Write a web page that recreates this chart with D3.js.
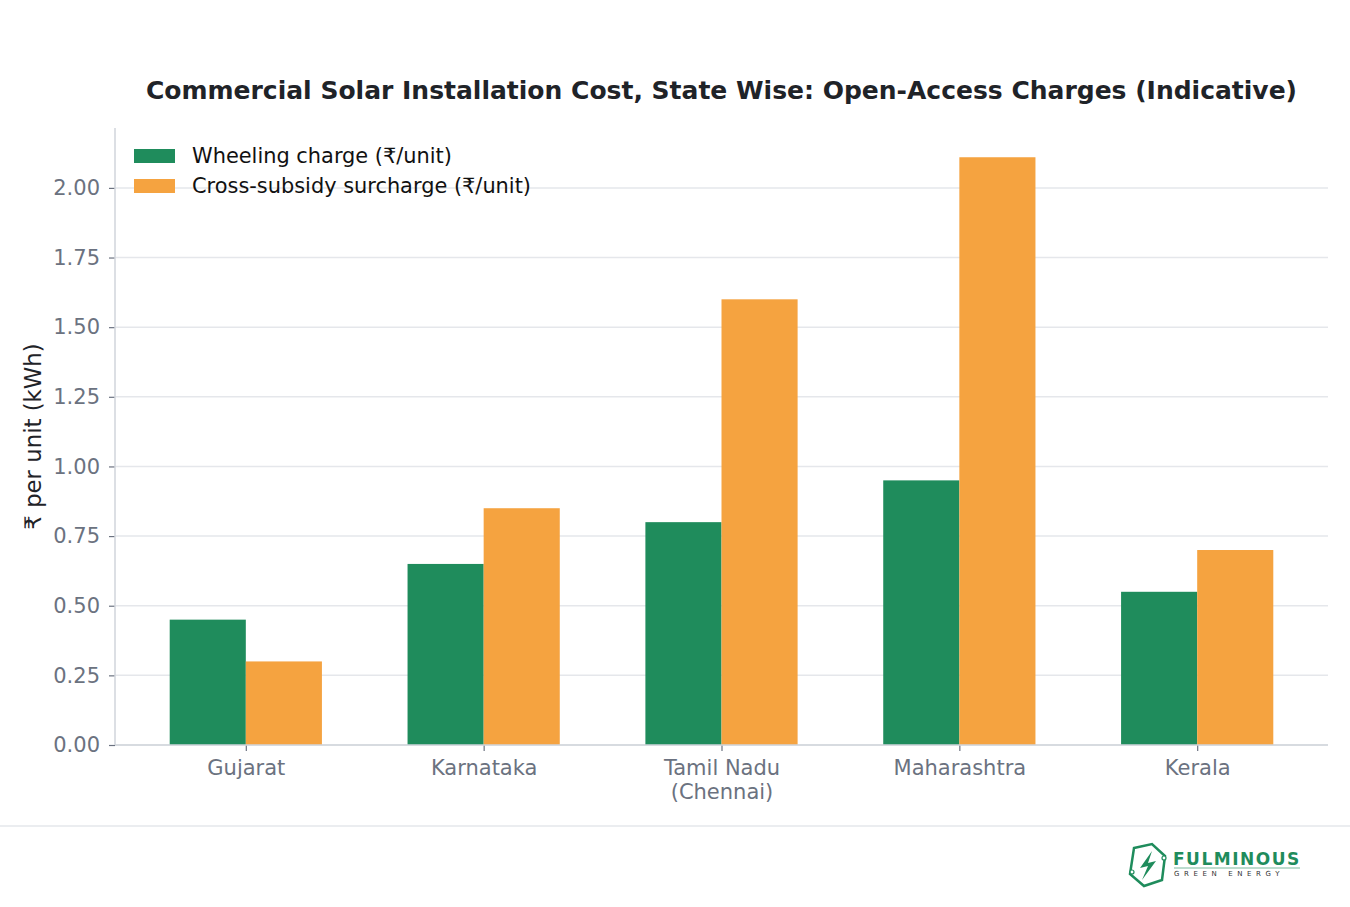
<!DOCTYPE html>
<html>
<head>
<meta charset="utf-8">
<script src="https://cdn.jsdelivr.net/npm/d3@7"></script>
<style>
  body { margin: 0; background: #fff; }
  svg { display: block; font-family: "DejaVu Sans", sans-serif; }
</style>
</head>
<body>
<script>
var states = ['Gujarat', 'Karnataka', 'Tamil Nadu\n(Chennai)', 'Maharashtra', 'Kerala'];
var wheeling = [0.45, 0.65, 0.80, 0.95, 0.55];
var crossSubsidy = [0.30, 0.85, 1.60, 2.11, 0.70];
var yTicks = [0, 0.25, 0.5, 0.75, 1.0, 1.25, 1.5, 1.75, 2.0];
var seriesNames = ['Wheeling charge (₹/unit)', 'Cross-subsidy surcharge (₹/unit)'];
var colors = ['#1f8c5c', '#f5a340'];

var width = 1350, height = 907;
var plotLeft = 115, plotRight = 1328, plotTop = 128, plotBottom = 745;
var font = 'DejaVu Sans';

var svg = d3.select('body')
  .append('svg')
  .attr('width', width)
  .attr('height', height);

// index scale, matplotlib-ish xlim of -0.55 .. 4.55
var x = d3.scaleLinear()
  .domain([-0.55, states.length - 0.45])
  .range([plotLeft, plotRight]);

var y = d3.scaleLinear()
  .domain([0, 2.215])
  .range([plotBottom, plotTop]);

var barW = x(0.32) - x(0);

// grid
svg.selectAll('line.grid')
  .data(yTicks)
  .enter()
  .append('line')
  .attr('x1', plotLeft)
  .attr('x2', plotRight)
  .attr('y1', function(d) { return y(d); })
  .attr('y2', function(d) { return y(d); })
  .attr('stroke', '#e5e7eb')
  .attr('stroke-width', 1.5);

// bars
var series = [wheeling, crossSubsidy];
series.forEach(function(vals, s) {
  svg.selectAll('rect.s' + s)
    .data(vals)
    .enter()
    .append('rect')
    .attr('x', function(d, i) { return s === 0 ? x(i) - barW : x(i); })
    .attr('y', function(d) { return y(d); })
    .attr('width', barW)
    .attr('height', function(d) { return y(0) - y(d); })
    .attr('fill', colors[s]);
});

// y axis
var yAxis = svg.append('g')
  .attr('transform', 'translate(' + plotLeft + ',0)')
  .call(d3.axisLeft(y).tickValues(yTicks).tickFormat(d3.format('.2f')).tickSize(6).tickPadding(9));
yAxis.select('.domain').remove();
yAxis.attr('font-family', font);
yAxis.selectAll('line').attr('stroke', '#6b7280').attr('stroke-width', 1.2);
yAxis.selectAll('text')
  .attr('fill', '#6b7280')
  .attr('font-size', '21px');

// x axis
var xAxis = svg.append('g')
  .attr('transform', 'translate(0,' + plotBottom + ')')
  .call(d3.axisBottom(x).tickValues(d3.range(states.length)).tickFormat('').tickSize(6));
xAxis.select('.domain').remove();
xAxis.attr('font-family', font);
xAxis.selectAll('line').attr('stroke', '#6b7280').attr('stroke-width', 1.2);

xAxis.selectAll('.tick')
  .append('text')
  .attr('fill', '#6b7280')
  .attr('font-size', '21px')
  .attr('text-anchor', 'middle')
  .each(function(d) {
    var lines = states[d].split('\n');
    var t = d3.select(this);
    lines.forEach(function(l, k) {
      t.append('tspan').attr('x', 0).attr('y', 30 + k * 24).text(l);
    });
  });

// spines
svg.append('line')
  .attr('x1', plotLeft).attr('x2', plotLeft)
  .attr('y1', plotTop).attr('y2', plotBottom)
  .attr('stroke', '#d1d5db').attr('stroke-width', 1.5);
svg.append('line')
  .attr('x1', plotLeft).attr('x2', plotRight)
  .attr('y1', plotBottom).attr('y2', plotBottom)
  .attr('stroke', '#d1d5db').attr('stroke-width', 1.5);

// title
svg.append('text')
  .text('Commercial Solar Installation Cost, State Wise: Open-Access Charges (Indicative)')
  .attr('x', (plotLeft + plotRight) / 2)
  .attr('y', 99)
  .attr('text-anchor', 'middle')
  .attr('font-size', '25px')
  .attr('font-weight', 'bold')
  .attr('fill', '#1f2328');

// y label
svg.append('text')
  .text('₹ per unit (kWh)')
  .attr('transform', 'translate(41,' + ((plotTop + plotBottom) / 2) + ') rotate(-90)')
  .attr('text-anchor', 'middle')
  .attr('font-size', '22.8px')
  .attr('fill', '#1f2328');

// legend
var legend = svg.selectAll('g.legend')
  .data(seriesNames)
  .enter()
  .append('g')
  .attr('transform', function(d, i) { return 'translate(134,' + (149 + i * 30) + ')'; });
legend.append('rect')
  .attr('width', 41)
  .attr('height', 14)
  .attr('fill', function(d, i) { return colors[i]; });
legend.append('text')
  .text(function(d) { return d; })
  .attr('x', 58)
  .attr('y', 14)
  .attr('font-size', '20.9px')
  .attr('fill', '#111');

// footer separator
svg.append('line')
  .attr('x1', 0).attr('x2', width)
  .attr('y1', 826).attr('y2', 826)
  .attr('stroke', '#e5e7eb').attr('stroke-width', 1.5);

// logo
var logo = svg.append('g').attr('transform', 'translate(1128,844)');
logo.append('path')
  .attr('d', 'M6,4 L24,0 L37,12 L34,36 L16,42 L2,30 Z')
  .attr('fill', 'none')
  .attr('stroke', '#1f8c5c')
  .attr('stroke-width', 2.5);
logo.append('path')
  .attr('d', 'M24,7 L12,24 L20,22 L14,36 L28,17 L20,19 Z')
  .attr('fill', '#1f8c5c');
logo.append('circle').attr('cx', 36).attr('cy', 14).attr('r', 2).attr('fill', '#fff').attr('stroke', '#1f8c5c').attr('stroke-width', 1.2);
logo.append('circle').attr('cx', 4).attr('cy', 28).attr('r', 2).attr('fill', '#fff').attr('stroke', '#1f8c5c').attr('stroke-width', 1.2);
logo.append('text')
  .text('FULMINOUS')
  .attr('x', 45)
  .attr('y', 21)
  .attr('font-size', '17px')
  .attr('font-weight', 'bold')
  .attr('letter-spacing', '1.5px')
  .attr('fill', '#1f8c5c');
logo.append('line')
  .attr('x1', 46).attr('x2', 172).attr('y1', 24).attr('y2', 24)
  .attr('stroke', '#1f8c5c').attr('stroke-width', 0.6);
logo.append('text')
  .text('GREEN ENERGY')
  .attr('x', 46)
  .attr('y', 32)
  .attr('font-size', '7px')
  .attr('letter-spacing', '4.6px')
  .attr('fill', '#333');
</script>
</body>
</html>
